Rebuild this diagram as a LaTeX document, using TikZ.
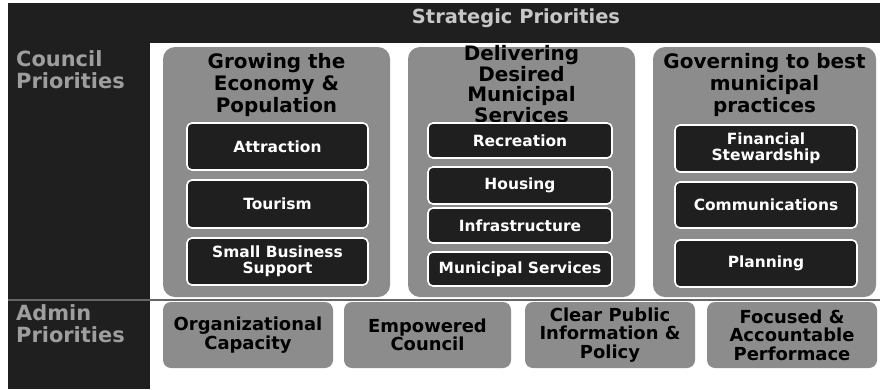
\documentclass[tikz,border=0pt]{standalone}
\usepackage{fontspec}
\setmainfont{DejaVu Sans}
\usepackage{tikz}
\pgfdeclarelayer{bg}
\pgfsetlayers{bg,main}
\tikzset{empty/.style={draw=none, fill=none, minimum size=0mm, inner sep=0mm}}
\tikzset{headbar/.style={draw=none, fill=black!88, inner sep=0mm}}
\tikzset{goalbox/.style={fill=black!45, rounded corners=12bp, inner sep=0mm, minimum height=250bp}}
\tikzset{itembox/.style={fill=black!88, draw=white, line width=1.6bp, rounded corners=5bp, inner sep=0mm, text=white, align=center, font=\bfseries\fontsize{15.5}{16.5}\selectfont}}
\tikzset{titletext/.style={empty, align=center, font=\bfseries\fontsize{20}{22}\selectfont}}
\tikzset{adminbox/.style={fill=black!45, rounded corners=8bp, inner sep=0mm, minimum height=66bp, align=center, font=\bfseries\fontsize{18}{18.5}\selectfont}}
\tikzset{sidelabel/.style={empty, anchor=west, align=left, text=black!38, font=\bfseries\fontsize{21}{22}\selectfont}}

\begin{document}
\begin{tikzpicture}[x=1bp, y=-1bp]
    \useasboundingbox (0,0) rectangle (880,389);

    \begin{pgfonlayer}{bg}
        \fill[white] (0,0) rectangle (880,389);
        \node (head) at (444,23) [headbar, minimum width=872bp, minimum height=40bp] {};
        \node (left) at (79,216) [headbar, minimum width=142bp, minimum height=346bp] {};
    \end{pgfonlayer}

    \node (strat) at (516,18) [empty, text=white!78!black, font=\bfseries\fontsize{19.5}{20}\selectfont] {Strategic Priorities};
    \node (council) at (16,70) [sidelabel] {Council\\Priorities};
    \node (admin) at (16,324) [sidelabel] {Admin\\Priorities};

    \coordinate (dl) at (8,300);
    \coordinate (dr) at (880,300);
    \draw[black!60, line width=1.2bp] (dl) -- (dr);

    \node (g1) at (276.5,172) [goalbox, minimum width=227bp] {};
    \node (g2) at (521.5,172) [goalbox, minimum width=227bp] {};
    \node (g3) at (764.5,172) [goalbox, minimum width=223bp] {};

    \node (t1) at (276.5,85) [titletext] {Growing the\\Economy \&\\Population};
    \node (t2) at (521.5,84) [titletext, font=\bfseries\fontsize{20}{20.5}\selectfont] {Delivering\\Desired\\Municipal\\Services};
    \node (t3) at (764.5,85) [titletext] {Governing to best\\municipal\\practices};

    \node (attr) at (277.5,146.5) [itembox, minimum width=181bp, minimum height=47bp] {Attraction};
    \node (tour) at (277.5,204) [itembox, minimum width=181bp, minimum height=48bp] {Tourism};
    \node (smbs) at (277.5,261.5) [itembox, minimum width=181bp, minimum height=47bp] {Small Business\\Support};

    \node (recr) at (520,140.5) [itembox, minimum width=184bp, minimum height=35bp] {Recreation};
    \node (hous) at (520,185.5) [itembox, minimum width=184bp, minimum height=37bp] {Housing};
    \node (infr) at (520,225.5) [itembox, minimum width=184bp, minimum height=35bp] {Infrastructure};
    \node (musv) at (520,269) [itembox, minimum width=184bp, minimum height=34bp] {Municipal Services};

    \node (fina) at (766,148.5) [itembox, minimum width=182bp, minimum height=47bp] {Financial\\Stewardship};
    \node (comm) at (766,205) [itembox, minimum width=182bp, minimum height=46bp] {Communications};
    \node (plan) at (766,263.5) [itembox, minimum width=182bp, minimum height=47bp] {Planning};

    \node (a1) at (248,335) [adminbox, minimum width=170bp] {Organizational\\Capacity};
    \node (a2) at (427.5,335) [adminbox, minimum width=167bp] {Empowered\\Council};
    \node (a3) at (610,335) [adminbox, minimum width=170bp] {Clear Public\\Information \&\\Policy};
    \node (a4) at (792,335) [adminbox, minimum width=170bp] {Focused \&\\Accountable\\Performace};
\end{tikzpicture}
\end{document}
